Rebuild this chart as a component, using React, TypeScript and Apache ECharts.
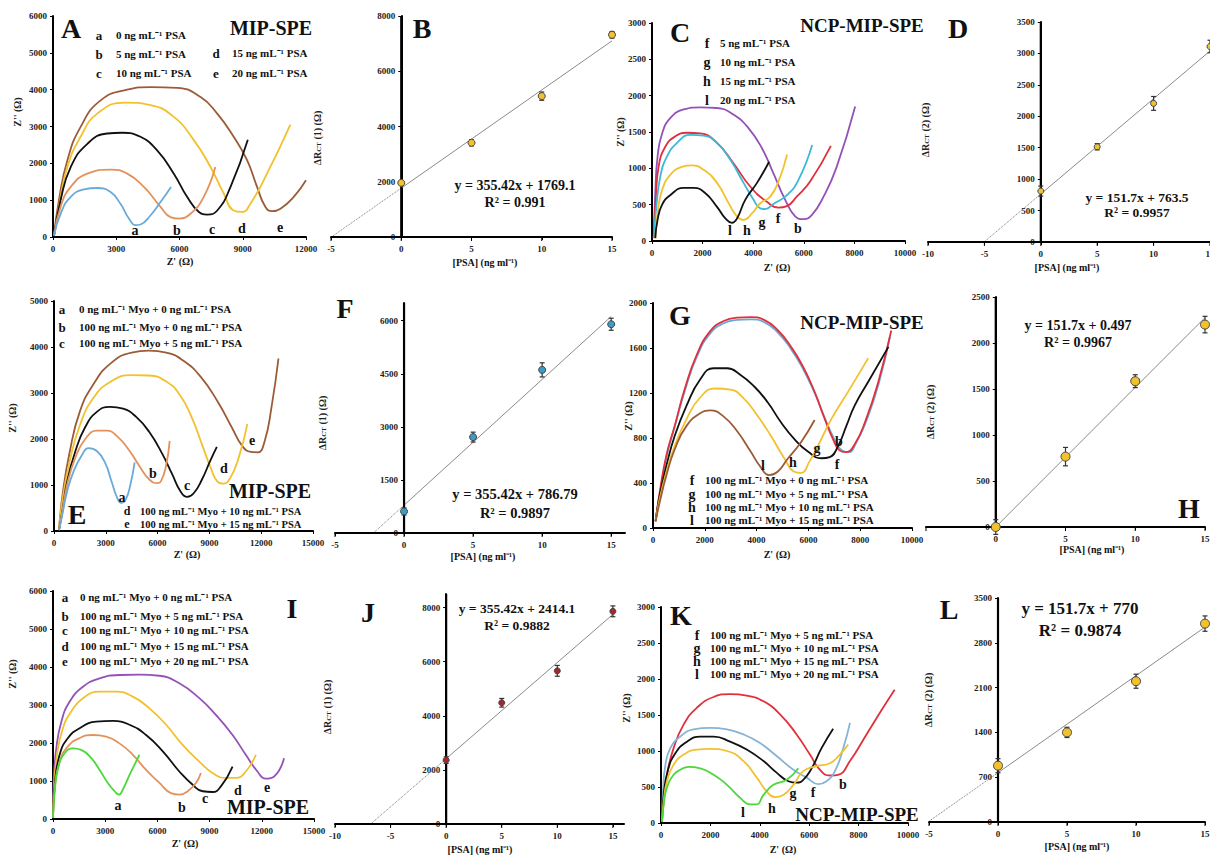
import React, { useEffect, useRef } from "react";
import * as echarts from "echarts";

const FONT = '"Liberation Serif", "Times New Roman", serif';

// ---------- Panel A (MIP-SPE, PSA) ----------
const A_a = [[50,40],[360,630],[840,1090],[1470,1290],[2100,1330],[2730,1220],[3200,900],[3600,500],[3920,320],[4150,340],[4630,590],[5100,950],[5600,1360]];
const A_b = [[50,40],[360,820],[840,1360],[1630,1720],[2730,1830],[3520,1720],[4310,1360],[5100,820],[5570,540],[5970,500],[6520,630],[7150,1090],[7700,1900]];
const A_c = [[50,40],[360,1000],[840,1900],[1630,2530],[2570,2810],[3280,2830],[4150,2720],[4940,2350],[5730,1720],[6360,1090],[6920,680],[7310,610],[7790,720],[8420,1360],[9240,2640]];
const A_d = [[50,40],[280,820],[680,1900],[1310,2720],[2100,3350],[3440,3650],[4630,3580],[5730,3260],[6680,2630],[7470,1900],[8100,1180],[8570,720],[8970,680],[9360,900],[10150,1720],[11260,3050]];
const A_e = [[50,40],[280,1000],[680,2080],[1310,2990],[2260,3710],[3520,4000],[4630,4070],[5890,4050],[7000,3800],[7790,3350],[8570,2720],[9210,2080],[9680,1360],[10070,820],[10390,700],[10790,770],[11420,1090],[12000,1540]];

// ---------- Panel C (NCP-MIP-SPE, PSA) ----------
const C_l = [[130,40],[220,290],[400,500],[720,630],[1250,730],[1650,730],[2100,660],[2570,470],[2900,310],[3160,250],[3360,310],[3690,570],[4150,800],[4630,1090]];
const C_h = [[130,40],[220,380],[400,700],[720,910],[1180,1020],[1580,1040],[2040,980],[2570,800],[3030,520],[3360,340],[3620,290],[3950,380],[4280,520],[4670,610],[5000,820],[5340,1190]];
const C_g = [[70,40],[170,470],[330,890],[590,1160],[990,1350],[1510,1460],[2040,1450],[2570,1350],[3090,1120],[3620,800],[4010,570],[4280,450],[4470,440],[4800,510],[5330,630],[5790,840],[6330,1320]];
const C_f = [[70,40],[150,570],[260,1020],[530,1300],[920,1440],[1380,1490],[1910,1480],[2570,1350],[3220,1070],[3880,750],[4540,540],[5000,460],[5330,480],[5720,610],[6250,820],[7070,1310]];
const C_b = [[70,40],[130,660],[220,1160],[400,1480],[720,1690],[1250,1810],[1910,1840],[2570,1830],[3220,1740],[3820,1550],[4340,1280],[4800,930],[5260,570],[5660,340],[5990,300],[6320,360],[6780,610],[7300,1020],[8030,1850]];

// ---------- Panel E (MIP-SPE, Myo + PSA) ----------
const E_a = [[290,20],[480,350],[760,860],[1140,1300],[1620,1650],[2000,1800],[2480,1740],[2950,1490],[3330,1080],[3660,720],[3900,610],[4150,680],[4420,1000],[4670,1490]];
const E_b = [[290,20],[480,420],[760,1010],[1240,1600],[1810,2000],[2480,2180],[3050,2180],[3710,2040],[4380,1740],[4950,1410],[5520,1120],[6000,1040],[6190,1080],[6470,1380],[6700,1960]];
const E_c = [[290,20],[480,420],[760,1080],[1240,1740],[1810,2260],[2480,2590],[3240,2700],[4000,2660],[4760,2480],[5520,2150],[6280,1670],[6850,1230],[7330,860],[7710,740],[8090,820],[8570,1120],[9040,1520],[9430,1830]];
const E_d = [[290,20],[500,700],[900,1500],[1500,2300],[2300,2900],[3300,3250],[4500,3390],[5500,3380],[6500,3250],[7300,2950],[8000,2450],[8600,1850],[9100,1350],[9500,1060],[9800,1030],[10200,1150],[10700,1600],[11200,2330]];
const E_e = [[290,20],[500,800],[900,1700],[1500,2600],[2300,3200],[3300,3650],[4500,3880],[5500,3920],[6500,3880],[7500,3700],[8500,3350],[9500,2800],[10300,2250],[10900,1850],[11400,1720],[11800,1710],[12200,1950],[12600,2700],[13000,3750]];

// ---------- Panel G (NCP-MIP-SPE, Myo + PSA) ----------
const G_b = [[100,60],[260,320],[520,650],[840,910],[1230,1240],[1690,1540],[2210,1750],[2730,1840],[3250,1870],[3770,1875],[4290,1850],[4810,1760],[5330,1610],[5780,1440],[6240,1210],[6630,970],[6950,790],[7200,690],[7450,675],[7800,750],[8200,950],[8700,1300],[9200,1755]];
const G_f = [[100,60],[260,300],[520,630],[840,900],[1230,1220],[1690,1520],[2210,1730],[2730,1820],[3250,1850],[3770,1855],[4290,1830],[4810,1740],[5330,1590],[5780,1420],[6240,1200],[6630,980],[7000,790],[7300,690],[7550,675],[7850,760],[8250,960],[8700,1270],[9150,1700]];
const G_g = [[100,60],[260,290],[520,555],[840,820],[1300,1090],[1820,1320],[2340,1420],[2860,1420],[3380,1360],[3900,1260],[4420,1120],[4940,940],[5460,790],[5980,680],[6500,620],[6820,630],[7150,730],[7470,910],[7790,1090],[8310,1300],[9090,1610]];
const G_h = [[100,60],[260,260],[520,500],[840,730],[1300,970],[1820,1160],[2400,1240],[2990,1230],[3510,1150],[4030,1000],[4550,820],[5070,620],[5460,500],[5720,490],[6040,590],[6370,730],[6890,970],[7530,1210],[8310,1510]];
const G_l = [[100,60],[260,230],[520,470],[840,700],[1300,910],[1820,1020],[2210,1045],[2730,990],[3250,860],[3770,680],[4160,540],[4480,470],[4810,500],[5200,615],[5720,765],[6240,960]];

// ---------- Panel I (MIP-SPE, Myo + PSA) ----------
const I_a = [[0,30],[100,730],[290,1340],[670,1730],[1150,1860],[1620,1820],[2200,1600],[2680,1290],[3150,950],[3540,730],[3780,640],[4050,810],[4400,1160],[4970,1690]];
const I_b = [[0,30],[100,810],[380,1510],[860,1910],[1530,2130],[2290,2210],[3060,2170],[3820,1990],[4590,1690],[5350,1290],[6120,950],[6780,680],[7260,640],[7740,730],[8220,950],[8500,1210]];
const I_c = [[0,30],[100,900],[380,1690],[860,2130],[1530,2390],[2480,2560],[3440,2580],[4400,2480],[5350,2210],[6310,1780],[7260,1250],[8030,900],[8600,730],[9170,710],[9650,860],[10320,1380]];
const I_d = [[0,30],[60,810],[230,1690],[570,2390],[1050,2830],[1720,3180],[2680,3350],[3630,3350],[4590,3220],[5540,2910],[6500,2480],[7450,1950],[8410,1510],[9170,1210],[9940,1080],[10510,1080],[11080,1250],[11660,1690]];
const I_e = [[0,30],[40,990],[190,1860],[480,2560],[960,3090],[1720,3480],[2680,3700],[3820,3790],[4970,3800],[6120,3770],[7260,3570],[8410,3180],[9360,2740],[10320,2210],[11080,1690],[11750,1250],[12230,1060],[12710,1120],[13280,1600]];

// ---------- Panel K (NCP-MIP-SPE, Myo + PSA) ----------
const K_b = [[40,20],[110,300],[240,670],[510,1040],[920,1370],[1450,1600],[2130,1750],[2800,1790],[3470,1770],[4150,1690],[4820,1510],[5490,1230],[6030,950],[6430,740],[6840,660],[7170,670],[7650,860],[8320,1230],[8990,1600],[9460,1850]];
const K_f = [[40,20],[80,440],[180,810],[380,1040],[780,1200],[1320,1300],[1990,1320],[2670,1300],[3340,1230],[4010,1110],[4680,930],[5360,740],[5900,630],[6370,540],[6700,580],[7040,720],[7380,1040],[7650,1390]];
const K_g = [[40,20],[110,390],[270,720],[580,970],[1050,1130],[1590,1200],[2130,1200],[2800,1130],[3470,1020],[4150,860],[4680,700],[5160,580],[5490,560],[5760,600],[6100,760],[6500,1040],[6970,1310]];
const K_h = [[40,20],[110,300],[240,580],[510,810],[920,950],[1450,1020],[1990,1030],[2670,1000],[3340,860],[3880,630],[4280,440],[4620,360],[4950,390],[5360,530],[5760,720],[6300,790],[6840,830],[7240,950],[7580,1090]];
const K_l = [[40,20],[110,260],[240,490],[510,670],[780,740],[1120,780],[1590,760],[2130,670],[2670,530],[3200,350],[3610,260],[3880,260],[4150,390],[4550,530],[5090,600],[5560,760]];

// ---------- Calibration panels ----------
const concPSA = [0, 5, 10, 15];
const rctB = [1960, 3410, 5100, 7320];
const errB = [70, 110, 150, 120];
const slopeB = 355.42, interceptB = 1769.1;
const rctD = [810, 1515, 2205, 3110];
const errD = [80, 50, 110, 100];
const slopeD = 151.7, interceptD = 763.5;
const rctF = [610, 2710, 4610, 5900];
const errF = [100, 140, 200, 170];
const slopeF = 355.42, interceptF = 786.79;
const rctH = [0, 765, 1585, 2200];
const errH = [80, 100, 70, 90];
const slopeH = 151.7, interceptH = 0.497;
const rctJ = [2360, 4480, 5660, 7860];
const errJ = [120, 160, 200, 200];
const slopeJ = 355.42, interceptJ = 2414.1;
const rctL = [880, 1400, 2200, 3100];
const errL = [110, 80, 110, 120];
const slopeL = 151.7, interceptL = 770;

const COL = {
  blue: "#6aaad8", orange: "#e3925c", black: "#111111", yellow: "#f2c12e", brown: "#9b5b38",
  cyan: "#3db8d8", red: "#e0303c", purple: "#9452b6", green: "#4cd83a", kblue: "#86b4d6",
};

const grids = [
  { left: 53, top: 16, width: 253, height: 221 },   // A
  { left: 331, top: 16, width: 281, height: 221 },  // B
  { left: 652, top: 23, width: 253, height: 218 },  // C
  { left: 928, top: 22, width: 282, height: 220 },  // D
  { left: 54, top: 301, width: 259, height: 230 },  // E
  { left: 335, top: 303, width: 290, height: 230 }, // F
  { left: 653, top: 303, width: 259, height: 225 }, // G
  { left: 926, top: 297, width: 279, height: 230 }, // H
  { left: 53, top: 591, width: 261, height: 228 },  // I
  { left: 335, top: 594, width: 289, height: 230 }, // J
  { left: 661, top: 607, width: 247, height: 216 }, // K
  { left: 929, top: 598, width: 276, height: 224 }, // L
];

const labelStyle = { fontFamily: FONT, fontWeight: "bold", fontSize: 9, color: "#222" };

function xAx(i: number, min: number, max: number, interval: number, extra: any = {}) {
  return {
    type: "value", gridIndex: i, min, max, interval,
    axisLine: { show: true, onZero: false, lineStyle: { color: "#000", width: 2 } },
    axisTick: { show: true, length: 3, lineStyle: { color: "#000", width: 1 } },
    axisLabel: { ...labelStyle, margin: 7, formatter: (v: number) => String(v), ...extra },
    splitLine: { show: false },
  };
}
// offset moves a left y axis to the x = 0 position of its grid
function yAx(i: number, min: number, max: number, interval: number, xmin = 0, xmax = 1, extra: any = {}) {
  const off = xmin < 0 ? -((0 - xmin) / (xmax - xmin)) * grids[i].width : 0;
  return {
    type: "value", gridIndex: i, min, max, interval, position: "left", offset: off,
    axisLine: { show: true, onZero: false, lineStyle: { color: "#000", width: 2 } },
    axisTick: { show: true, length: 3, lineStyle: { color: "#000", width: 1 } },
    axisLabel: { ...labelStyle, margin: 6, formatter: (v: number) => String(v), ...extra },
    splitLine: { show: false },
  };
}

function curve(i: number, data: number[][], color: string) {
  return {
    type: "line", xAxisIndex: i, yAxisIndex: i, data, smooth: 0.5,
    showSymbol: false, symbol: "none", silent: true, lineStyle: { color, width: 1.8 }, z: 3,
  };
}

// axis lines of a calibration panel (as thin filled bars), placed through the panel's own scales
function axesBars(i: number, xmin: number, xmax: number, ymax: number) {
  return { type: "custom", xAxisIndex: i, yAxisIndex: i, silent: true, z: 9, clip: false,
    data: [[xmin, 0, xmax, ymax]], encode: { x: [0, 2], y: [1, 3] },
    renderItem: (params: any, api: any) => {
      const a = api.value(0), b = api.value(2), top = api.value(3);
      const pl = api.coord([a, 0]);
      const pr = api.coord([b, 0]);
      const pz = api.coord([0, 0]);
      const pt = api.coord([0, top]);
      const children: any[] = [
        { type: "rect", shape: { x: pl[0], y: pl[1] - 1.1, width: pr[0] - pl[0], height: 2.2 }, style: { fill: "#000" } },
        { type: "rect", shape: { x: pz[0] - 1.1, y: pt[1], width: 2.2, height: pz[1] - pt[1] }, style: { fill: "#000" } },
      ];
      for (let t = Math.ceil(a / 5) * 5; t <= b; t += 5) {
        const p = api.coord([t, 0]);
        children.push({ type: "rect", shape: { x: p[0] - 0.5, y: p[1], width: 1, height: 4 }, style: { fill: "#000" } });
      }
      return { type: "group", children };
    } };
}

function calib(i: number, rct: number[], err: number[], slope: number, intercept: number, color: string, size: number) {
  const x0 = -intercept / slope;
  return [
    { type: "line", xAxisIndex: i, yAxisIndex: i, silent: true, symbol: "none",
      data: [[0, intercept], [15, slope * 15 + intercept]], lineStyle: { color: "#8a8a8a", width: 1 }, z: 2 },
    { type: "line", xAxisIndex: i, yAxisIndex: i, silent: true, symbol: "none",
      data: [[x0, 0], [0, intercept]], lineStyle: { color: "#777", width: 1, type: "dotted" }, z: 2 },
    { type: "custom", xAxisIndex: i, yAxisIndex: i, silent: true, z: 10, clip: false,
      data: concPSA.map((c, k) => [c, rct[k] - err[k], rct[k] + err[k]]),
      encode: { x: 0, y: [1, 2] },
      renderItem: (params: any, api: any) => {
        const x = api.value(0);
        const p1 = api.coord([x, api.value(1)]);
        const p2 = api.coord([x, api.value(2)]);
        const w = 2.5;
        return { type: "group", children: [
          { type: "rect", shape: { x: p1[0] - 0.6, y: p2[1], width: 1.2, height: p1[1] - p2[1] }, style: { fill: "#333" } },
          { type: "rect", shape: { x: p1[0] - w, y: p1[1] - 0.6, width: 2 * w, height: 1.2 }, style: { fill: "#333" } },
          { type: "rect", shape: { x: p2[0] - w, y: p2[1] - 0.6, width: 2 * w, height: 1.2 }, style: { fill: "#333" } },
        ] };
      } },
    { type: "scatter", xAxisIndex: i, yAxisIndex: i, silent: true, z: 11, symbolSize: size,
      data: concPSA.map((c, k) => [c, rct[k]]),
      itemStyle: { color, borderColor: "#444", borderWidth: 1, opacity: 1 } },
  ];
}

function T(x: number, y: number, text: string, size: number, align = "center") {
  return { type: "text", x, y, silent: true, z: 10,
    style: { text, font: `bold ${size}px ${FONT}`, fill: "#111", align, verticalAlign: "middle" } };
}
function YT(x: number, y: number, text: string) {
  return { type: "text", x, y, rotation: Math.PI / 2, silent: true, z: 10,
    style: { text, font: `bold 10px ${FONT}`, fill: "#222", align: "center", verticalAlign: "middle" } };
}
function YR(x: number, y: number, n: number) {
  return { type: "text", x, y, rotation: Math.PI / 2, silent: true, z: 10,
    style: { text: `{m|ΔR}{s|CT}{m| (${n}) (Ω)}`, align: "center", verticalAlign: "middle",
      rich: {
        m: { fontFamily: FONT, fontWeight: "bold", fontSize: 10, fill: "#222" },
        s: { fontFamily: FONT, fontWeight: "bold", fontSize: 7, fill: "#222", verticalAlign: "bottom" },
      } } };
}

function legendRows(xl: number, xt: number, ys: number[], letters: string[], texts: string[], ls = 13, ts = 11) {
  const out: any[] = [];
  ys.forEach((y, k) => {
    out.push(T(xl, y, letters[k], ls));
    out.push(T(xt, y, texts[k], ts, "left"));
  });
  return out;
}

const ML = "ng mL⁻¹";
const PSAX = "[PSA] (ng ml⁻¹)";

export default function App() {
  const ref = useRef<HTMLDivElement>(null);
  useEffect(() => {
    document.body.style.margin = "0";
    const chart = echarts.init(ref.current!, undefined, { renderer: "svg" });
    const graphic: any[] = [
      // A
      T(71, 28, "A", 28), T(271, 28, "MIP-SPE", 20),
      ...legendRows(99, 116, [35, 54, 73], ["a", "b", "c"], [`0 ${ML} PSA`, `5 ${ML} PSA`, `10 ${ML} PSA`], 13, 11),
      ...legendRows(216, 232, [53, 73], ["d", "e"], [`15 ${ML} PSA`, `20 ${ML} PSA`], 13, 11),
      T(135, 230, "a", 14), T(177, 230, "b", 14), T(212, 229, "c", 14), T(242, 228, "d", 14), T(280, 227, "e", 14),
      YT(17, 112, "Z'' (Ω)"), T(180, 261, "Z' (Ω)", 10),
      // B
      T(422, 28, "B", 28), T(515, 185, "y = 355.42x + 1769.1", 14), T(515, 202, "R² = 0.991", 14),
      YR(317, 138, 1), T(485, 262, PSAX, 10),
      // C
      T(680, 32, "C", 28), T(862, 25, "NCP-MIP-SPE", 19),
      ...legendRows(707, 720, [43, 62, 81, 100], ["f", "g", "h", "l"], [`5 ${ML} PSA`, `10 ${ML} PSA`, `15 ${ML} PSA`, `20 ${ML} PSA`], 14, 11),
      T(730, 230, "l", 14), T(747, 230, "h", 14), T(762, 222, "g", 14), T(778, 218, "f", 14), T(798, 228, "b", 14),
      YT(620, 132, "Z'' (Ω)"), T(777, 267, "Z' (Ω)", 10),
      // D
      T(958, 28, "D", 28), T(1137, 197, "y = 151.7x + 763.5", 13.5), T(1137, 212, "R² = 0.9957", 13.5),
      YR(925, 130, 2), T(1067, 267, PSAX, 10),
      // E
      T(77, 514, "E", 28), T(270, 491, "MIP-SPE", 20),
      ...legendRows(62, 79, [309, 327, 343], ["a", "b", "c"], [`0 ${ML} Myo + 0 ${ML} PSA`, `100 ${ML} Myo + 0 ${ML} PSA`, `100 ${ML} Myo + 5 ${ML} PSA`], 13, 11),
      ...legendRows(127, 140, [511, 524], ["d", "e"], [`100 ${ML} Myo + 10 ${ML} PSA`, `100 ${ML} Myo + 15 ${ML} PSA`], 12, 10.5),
      T(122, 497, "a", 14), T(153, 473, "b", 14), T(187, 485, "c", 14), T(224, 468, "d", 14), T(252, 440, "e", 14),
      YT(12, 418, "Z'' (Ω)"), T(187, 554, "Z' (Ω)", 10),
      // F
      T(345, 308, "F", 28), T(515, 494, "y = 355.42x + 786.79", 14.5), T(515, 513, "R² = 0.9897", 14.5),
      YR(322, 423, 1), T(483, 556, PSAX, 10),
      // G
      T(680, 315, "G", 28), T(862, 322, "NCP-MIP-SPE", 19),
      ...legendRows(692, 705, [480, 494, 507, 520], ["f", "g", "h", "l"], [`100 ${ML} Myo + 0 ${ML} PSA`, `100 ${ML} Myo + 5 ${ML} PSA`, `100 ${ML} Myo + 10 ${ML} PSA`, `100 ${ML} Myo + 15 ${ML} PSA`], 14, 11),
      T(763, 465, "l", 14), T(793, 462, "h", 14), T(817, 448, "g", 14), T(839, 441, "b", 14), T(837, 464, "f", 14),
      YT(628, 416, "Z'' (Ω)"), T(777, 554, "Z' (Ω)", 10),
      // H
      T(1189, 508, "H", 28), T(1078, 325, "y = 151.7x + 0.497", 14), T(1078, 342, "R² = 0.9967", 14),
      YR(930, 412, 2), T(1092, 549, PSAX, 10),
      // I
      T(292, 608, "I", 28), T(268, 807, "MIP-SPE", 20),
      ...legendRows(65, 80, [597, 616, 630, 646, 661], ["a", "b", "c", "d", "e"], [`0 ${ML} Myo + 0 ${ML} PSA`, `100 ${ML} Myo + 5 ${ML} PSA`, `100 ${ML} Myo + 10 ${ML} PSA`, `100 ${ML} Myo + 15 ${ML} PSA`, `100 ${ML} Myo + 20 ${ML} PSA`], 13, 11),
      T(118, 805, "a", 14), T(182, 807, "b", 14), T(205, 798, "c", 14), T(238, 790, "d", 14), T(267, 787, "e", 14),
      YT(12, 674, "Z'' (Ω)"), T(185, 843, "Z' (Ω)", 10),
      // J
      T(368, 612, "J", 28), T(517, 608, "y = 355.42x + 2414.1", 13.5), T(517, 625, "R² = 0.9882", 13.5),
      YR(327, 707, 1), T(480, 849, PSAX, 10),
      // K
      T(681, 615, "K", 28), T(857, 814, "NCP-MIP-SPE", 19),
      ...legendRows(697, 710, [635, 648, 661, 674], ["f", "g", "h", "l"], [`100 ${ML} Myo + 5 ${ML} PSA`, `100 ${ML} Myo + 10 ${ML} PSA`, `100 ${ML} Myo + 15 ${ML} PSA`, `100 ${ML} Myo + 20 ${ML} PSA`], 14, 11),
      T(743, 812, "l", 14), T(772, 808, "h", 14), T(793, 793, "g", 14), T(813, 792, "f", 14), T(843, 784, "b", 14),
      YT(626, 708, "Z'' (Ω)"), T(783, 849, "Z' (Ω)", 10),
      // L
      T(949, 609, "L", 28), T(1080, 608, "y = 151.7x + 770", 17), T(1080, 630, "R² = 0.9874", 17),
      YR(928, 700, 2), T(1077, 846, PSAX, 10),
    ];

    const option: any = {
      animation: false,
      backgroundColor: "#ffffff",
      grid: grids.map((g) => ({ ...g, containLabel: false, outerBoundsMode: "none" })),
      xAxis: [
        xAx(0, 0, 12000, 3000),
        xAx(1, -5, 15, 5),
        xAx(2, 0, 10000, 2000),
        xAx(3, -10, 15, 5, { showMaxLabel: true }),
        xAx(4, 0, 15000, 3000),
        xAx(5, -5, 16, 5, { showMaxLabel: false }),
        xAx(6, 0, 10000, 2000),
        xAx(7, -5, 15, 5, { showMinLabel: false }),
        xAx(8, 0, 15000, 3000),
        xAx(9, -10, 16, 5, { showMaxLabel: false }),
        xAx(10, 0, 10000, 2000),
        xAx(11, -5, 15, 5),
      ],
      yAxis: [
        yAx(0, 0, 6000, 1000),
        yAx(1, 0, 8000, 2000, -5, 15),
        yAx(2, 0, 3000, 500),
        yAx(3, 0, 3500, 500, -10, 15),
        yAx(4, 0, 5000, 1000),
        yAx(5, 0, 6500, 1500, -5, 16, { showMaxLabel: false }),
        yAx(6, 0, 2000, 400),
        yAx(7, 0, 2500, 500, -5, 15),
        yAx(8, 0, 6000, 1000),
        yAx(9, 0, 8500, 2000, -10, 16, { showMaxLabel: false }),
        yAx(10, 0, 3000, 500),
        yAx(11, 0, 3500, 700, -5, 15),
      ],
      series: [
        curve(0, A_e, COL.brown), curve(0, A_d, COL.yellow), curve(0, A_c, COL.black), curve(0, A_b, COL.orange), curve(0, A_a, COL.blue),
        axesBars(1, -5, 15, 8000),
        ...calib(1, rctB, errB, slopeB, interceptB, COL.yellow, 7),
        curve(2, C_b, COL.purple), curve(2, C_f, COL.red), curve(2, C_g, COL.cyan), curve(2, C_h, COL.yellow), curve(2, C_l, COL.black),
        axesBars(3, -10, 15, 3500),
        ...calib(3, rctD, errD, slopeD, interceptD, COL.yellow, 6),
        curve(4, E_e, COL.brown), curve(4, E_d, COL.yellow), curve(4, E_c, COL.black), curve(4, E_b, COL.orange), curve(4, E_a, COL.blue),
        axesBars(5, -5, 16, 6500),
        ...calib(5, rctF, errF, slopeF, interceptF, "#3d9bc9", 7),
        curve(6, G_f, COL.blue), curve(6, G_b, COL.red), curve(6, G_g, COL.black), curve(6, G_h, COL.yellow), curve(6, G_l, COL.brown),
        axesBars(7, -5, 15, 2500),
        ...calib(7, rctH, errH, slopeH, interceptH, COL.yellow, 9),
        curve(8, I_e, COL.purple), curve(8, I_d, COL.yellow), curve(8, I_c, COL.black), curve(8, I_b, COL.orange), curve(8, I_a, COL.green),
        axesBars(9, -10, 16, 8500),
        ...calib(9, rctJ, errJ, slopeJ, interceptJ, "#a8262b", 6),
        curve(10, K_b, COL.red), curve(10, K_f, COL.kblue), curve(10, K_g, COL.black), curve(10, K_h, COL.yellow), curve(10, K_l, COL.green),
        axesBars(11, -5, 15, 3500),
        ...calib(11, rctL, errL, slopeL, interceptL, COL.yellow, 9),
      ],
      graphic,
    };
    chart.setOption(option);
    return () => chart.dispose();
  }, []);
  return <div ref={ref} style={{ position: "absolute", left: 0, top: 0, width: 1210, height: 856, background: "#fff" }} />;
}
